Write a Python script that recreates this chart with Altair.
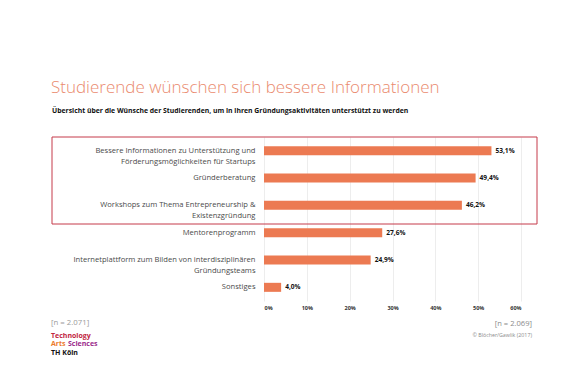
import altair as alt
import pandas as pd

categories = [
    "Bessere Informationen zu Unterstützung und|Förderungsmöglichkeiten für Startups",
    "Gründerberatung",
    "Workshops zum Thema Entrepreneurship &|Existenzgründung",
    "Mentorenprogramm",
    "Internetplattform zum Bilden von interdisziplinären|Gründungsteams",
    "Sonstiges",
]
values = [53.1, 49.4, 46.2, 27.6, 24.9, 4.0]
x_ticks = [0, 10, 20, 30, 40, 50, 60]

title_text = "Studierende wünschen sich bessere Informationen"
subtitle_text = "Übersicht über die Wünsche der Studierenden, um in ihren Gründungsaktivitäten unterstützt zu werden"
n_left = "[n = 2.071]"
n_right = "[n = 2.069]"
source_text = "© Blöcher/Gawlik (2017)"

FONT = "Open Sans"
BAR = "#ec7a52"

df = pd.DataFrame({"cat": categories, "v": values})

W, H = 257, 164

y_enc = alt.Y(
    "cat:N",
    sort=categories,
    scale=alt.Scale(paddingInner=0.67, paddingOuter=0.335),
    axis=alt.Axis(
        title=None,
        labelExpr="split(datum.label, '|')",
        labelFont=FONT,
        labelFontSize=7.6,
        labelColor="#4a4a4a",
        labelLineHeight=11,
        labelLimit=400,
        labelPadding=9,
        ticks=False,
        domain=False,
        grid=False,
    ),
)
x_enc = alt.X(
    "v:Q",
    scale=alt.Scale(domain=[0, 60], nice=False),
    axis=alt.Axis(
        title=None,
        values=x_ticks,
        labelExpr="datum.value + '%'",
        labelFont=FONT,
        labelFontSize=5.5,
        labelFontWeight="bold",
        labelColor="#333333",
        labelPadding=4,
        ticks=False,
        domain=False,
        grid=True,
        gridColor="#e8e8e8",
        gridWidth=0.8,
    ),
)

bars = alt.Chart(df).mark_bar(color=BAR).encode(x=x_enc, y=y_enc)
labels = (
    alt.Chart(df)
    .transform_calculate(lab="replace(format(datum.v, '.1f'), '.', ',') + '%'")
    .mark_text(align="left", baseline="middle", dx=4, font=FONT, fontSize=6.6,
               fontWeight="bold", color="#111111")
    .encode(x="v:Q", y=alt.Y("cat:N", sort=categories), text="lab:N")
)

X0, Y0 = 264, 137  # page coords of plot origin


def txt(s, px, py, size, color, weight="normal", align="left", baseline="middle"):
    return (
        alt.Chart(pd.DataFrame({"t": [s]}))
        .mark_text(align=align, baseline=baseline, font=FONT, fontSize=size,
                   fontWeight=weight, color=color)
        .encode(text="t:N", x=alt.value(px - X0), y=alt.value(py - Y0))
    )


box = (
    alt.Chart(pd.DataFrame({"a": [0]}))
    .mark_rect(fill=None, stroke="#c53a4b", strokeWidth=1)
    .encode(x=alt.value(52 - X0), x2=alt.value(537 - X0),
            y=alt.value(137 - Y0), y2=alt.value(224 - Y0))
)

layers = [
    box,
    bars,
    labels,
    txt(title_text, 51, 93, 17, "#ea8a6e", weight=300, baseline="alphabetic"),
    txt(subtitle_text, 52, 111, 6.85, "#111111", weight="bold"),
    txt(n_left, 51, 323, 7.8, "#9a9a9a"),
    txt(n_right, 532, 324, 7.6, "#8a8a8a", align="right"),
    txt(source_text, 532, 335, 5.3, "#8a8a8a", align="right"),
    txt("Technology", 51, 335.5, 7.0, "#c1263f", weight="bold"),
    txt("Arts", 51, 344.3, 7.0, "#ec7a2c", weight="bold"),
    txt("Sciences", 68, 344.3, 7.0, "#9b2c8c", weight="bold"),
    txt("TH Köln", 51, 353.1, 7.0, "#111111", weight="bold"),
]

chart = (
    alt.layer(*layers)
    .properties(
        width=W,
        height=H,
        autosize=alt.AutoSizeParams(type="none"),
        padding={"left": X0 - 8, "top": Y0 - 8, "right": 588 - 16 - (X0 - 8) - W,
                 "bottom": 392 - 16 - (Y0 - 8) - H},
        background="white",
    )
    .configure_view(stroke=None)
)

chart.save("out.html", embed_options={"renderer": "svg", "actions": False})
